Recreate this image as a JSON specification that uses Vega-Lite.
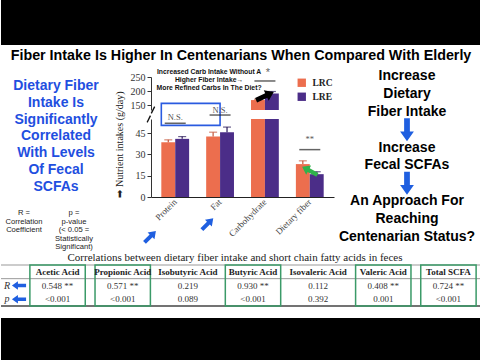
{
  "$schema": "https://vega.github.io/schema/vega-lite/v6.json",
  "background": "white",
  "padding": 0,
  "spacing": 0,
  "bounds": "full",
  "resolve": {"legend": {"color": "independent"}},
  "config": {
    "view": {"stroke": null},
    "font": "Liberation Sans",
    "axis": {"grid": false, "labelFont": "Liberation Serif", "labelFontSize": 10, "labelColor": "#333", "domainColor": "#333", "tickColor": "#333", "titleFont": "Liberation Serif", "titleFontWeight": "normal", "titleColor": "#222"}
  },
  "datasets": {
    "nutrients": [
      {"nutrient": "Protein", "group": "LRC", "value": 38.6, "hi": 40.3},
      {"nutrient": "Protein", "group": "LRE", "value": 41.0, "hi": 42.6},
      {"nutrient": "Fat", "group": "LRC", "value": 42.6, "hi": 45.7},
      {"nutrient": "Fat", "group": "LRE", "value": 45.7, "hi": 49.3},
      {"nutrient": "Carbohydrate", "group": "LRC", "value": 169, "hi": 172},
      {"nutrient": "Carbohydrate", "group": "LRE", "value": 192, "hi": 199},
      {"nutrient": "Dietary fiber", "group": "LRC", "value": 23.2, "hi": 25.5},
      {"nutrient": "Dietary fiber", "group": "LRE", "value": 16.1, "hi": 17.8}
    ],
    "notes": [
      {"panel": "upper", "kind": "caption", "nutrient": "Fat", "level": 267, "label": "Increased Carb Intake Without A\nHigher Fiber Intake→\nMore Refined Carbs In The Diet?"},
      {"panel": "upper", "kind": "star", "nutrient": "Carbohydrate", "level": 264, "label": "*"},
      {"panel": "upper", "kind": "line", "nutrient": "Carbohydrate", "level": 236},
      {"panel": "upper", "kind": "blackarrow", "nutrient": "Carbohydrate", "level": 183},
      {"panel": "upper", "kind": "break", "nutrient": "Protein", "level": 134},
      {"panel": "lower", "kind": "break", "nutrient": "Protein", "level": 55},
      {"panel": "lower", "kind": "star", "nutrient": "Protein", "level": 56.3, "label": "N.S."},
      {"panel": "lower", "kind": "line", "nutrient": "Protein", "level": 52},
      {"panel": "lower", "kind": "star", "nutrient": "Fat", "level": 61.2, "label": "N.S."},
      {"panel": "lower", "kind": "line", "nutrient": "Fat", "level": 57.8},
      {"panel": "lower", "kind": "star", "nutrient": "Dietary fiber", "level": 41, "label": "**"},
      {"panel": "lower", "kind": "line", "nutrient": "Dietary fiber", "level": 33.4},
      {"panel": "lower", "kind": "greenarrow", "nutrient": "Dietary fiber", "level": 18.5},
      {"panel": "lower", "kind": "bluearrow", "nutrient": "Protein", "level": -28},
      {"panel": "lower", "kind": "bluearrow", "nutrient": "Fat", "level": -19}
    ],
    "acids": [
      {"acid": "Acetic Acid", "R": "0.548 **", "p": "<0.001", "sig": true},
      {"acid": "Propionic Acid", "R": "0.571 **", "p": "<0.001", "sig": true},
      {"acid": "Isobutyric Acid", "R": "0.219", "p": "0.089", "sig": false},
      {"acid": "Butyric Acid", "R": "0.930 **", "p": "<0.001", "sig": true},
      {"acid": "Isovaleric Acid", "R": "0.112", "p": "0.392", "sig": false},
      {"acid": "Valeric Acid", "R": "0.408 **", "p": "0.001", "sig": true},
      {"acid": "Total SCFA", "R": "0.724 **", "p": "<0.001", "sig": true}
    ],
    "rows": [{"row": "head"}, {"row": "R"}, {"row": "p"}],
    "flow": [
      {"slot": 1, "kind": "text", "t": "Increase"},
      {"slot": 2, "kind": "text", "t": "Dietary"},
      {"slot": 3, "kind": "text", "t": "Fiber Intake"},
      {"slot": 4, "kind": "arrow"},
      {"slot": 5, "kind": "text", "t": "Increase"},
      {"slot": 6, "kind": "text", "t": "Fecal SCFAs"},
      {"slot": 7, "kind": "arrow"},
      {"slot": 8, "kind": "text", "t": "An Approach For"},
      {"slot": 9, "kind": "text", "t": "Reaching"},
      {"slot": 10, "kind": "text", "t": "Centenarian Status?"}
    ],
    "legendnotes": [
      {"block": "R", "line": 0, "t": "R ="},
      {"block": "R", "line": 1, "t": "Correlation"},
      {"block": "R", "line": 2, "t": "Coefficient"},
      {"block": "p", "line": 0, "t": "p ="},
      {"block": "p", "line": 1, "t": "p-value"},
      {"block": "p", "line": 2, "t": "(< 0.05 ="},
      {"block": "p", "line": 3, "t": "Statistically"},
      {"block": "p", "line": 4, "t": "Significant)"}
    ]
  },
  "vconcat": [
    {"width": 480, "height": 45, "view": {"fill": "black"}, "data": {"values": [{}]}, "mark": {"type": "text", "text": ""}, "encoding": {}},
    {"width": 480, "height": 22, "data": {"values": [{"t": "Fiber Intake Is Higher In Centenarians When Compared With Elderly"}]},
     "mark": {"type": "text", "font": "Liberation Sans", "fontWeight": "bold", "fontSize": 14.3, "baseline": "alphabetic", "dy": 4, "color": "black"},
     "encoding": {"text": {"field": "t"}}},
    {"hconcat": [
      {"width": 110, "height": 36,
       "layer": [
         {"data": {"values": [{"t": "Dietary Fiber\nIntake Is\nSignificantly\nCorrelated\nWith Levels\nOf Fecal\nSCFAs"}]},
          "mark": {"type": "text", "font": "Liberation Sans", "fontSize": 14, "fontWeight": "bold", "color": "#1f4fe0", "lineBreak": "\n", "lineHeight": 16.8, "baseline": "middle", "align": "center"},
          "encoding": {"text": {"field": "t"}}},
         {"data": {"name": "legendnotes"},
          "mark": {"type": "text", "font": "Liberation Sans", "fontSize": 7.6, "color": "#222"},
          "encoding": {
            "x": {"field": "block", "type": "nominal", "scale": {"type": "point", "domain": ["R", "p"], "range": [23, 73], "padding": 0}, "axis": null},
            "y": {"field": "line", "type": "ordinal", "scale": {"type": "point", "range": [145, 179], "padding": 0}, "axis": null},
            "text": {"field": "t"}}}
       ]},
      {"width": 183, "height": 129,
       "resolve": {"scale": {"y": "independent"}, "axis": {"y": "independent"}},
       "encoding": {
         "x": {"field": "nutrient", "type": "nominal", "sort": null, "scale": {"domain": ["Protein", "Fat", "Carbohydrate", "Dietary fiber"], "paddingInner": 0.38, "paddingOuter": 0.23}}
       },
       "layer": [
         {"layer": [
           {"data": {"name": "nutrients"}, "transform": [{"filter": "datum.value > 134"}], "mark": {"type": "bar"},
            "encoding": {
              "xOffset": {"field": "group", "type": "nominal", "scale": {"domain": ["LRC", "LRE"]}},
              "y": {"field": "value", "type": "quantitative", "scale": {"domain": [134, 250], "range": [42, 9], "nice": false, "zero": false}, "axis": {"orient": "left", "values": [150, 200, 250], "title": null, "tickSize": 4, "labelPadding": 2}},
              "y2": {"datum": 134},
              "color": {"field": "group", "type": "nominal", "scale": {"domain": ["LRC", "LRE"], "range": ["#EC6E4E", "#4B2D88"]},
                "legend": {"title": null, "orient": "none", "legendX": 146, "legendY": 10, "padding": 0, "symbolType": "square", "symbolSize": 70, "symbolStrokeWidth": 0, "labelFont": "Liberation Serif", "labelFontWeight": "bold", "labelFontSize": 9.5, "labelColor": "#222", "rowPadding": 3, "labelOffset": 6}}}},
           {"data": {"name": "nutrients"}, "transform": [{"filter": "datum.value > 134"}], "mark": {"type": "rule", "strokeWidth": 1.2},
            "encoding": {
              "xOffset": {"field": "group", "type": "nominal"},
              "y": {"field": "value", "type": "quantitative"}, "y2": {"field": "hi"},
              "color": {"condition": {"test": "datum.group === 'LRC'", "value": "#c4553a"}, "value": "#2b1a5a"}}},
           {"data": {"name": "nutrients"}, "transform": [{"filter": "datum.value > 134"}], "mark": {"type": "tick", "size": 8, "thickness": 1.2},
            "encoding": {
              "xOffset": {"field": "group", "type": "nominal"},
              "y": {"field": "hi", "type": "quantitative"},
              "color": {"condition": {"test": "datum.group === 'LRC'", "value": "#c4553a"}, "value": "#2b1a5a"}}},
           {"data": {"name": "notes"}, "transform": [{"filter": "datum.panel === 'upper' && datum.kind === 'caption'"}],
            "mark": {"type": "text", "font": "Liberation Sans", "fontWeight": "bold", "fontSize": 6.8, "lineBreak": "\n", "lineHeight": 8, "baseline": "middle", "dx": -11, "color": "#111"},
            "encoding": {"y": {"field": "level", "type": "quantitative"}, "text": {"field": "label"}}},
           {"data": {"name": "notes"}, "transform": [{"filter": "datum.panel === 'upper' && datum.kind === 'star'"}],
            "mark": {"type": "text", "font": "Liberation Sans", "fontSize": 11, "baseline": "middle", "dx": 3, "color": "#666"},
            "encoding": {"y": {"field": "level", "type": "quantitative"}, "text": {"field": "label"}}},
           {"data": {"name": "notes"}, "transform": [{"filter": "datum.panel === 'upper' && datum.kind === 'line'"}],
            "mark": {"type": "tick", "size": 21, "thickness": 1.5, "color": "#222"},
            "encoding": {"y": {"field": "level", "type": "quantitative"}}},
           {"data": {"name": "notes"}, "transform": [{"filter": "datum.panel === 'upper' && datum.kind === 'blackarrow'"}],
            "mark": {"type": "point", "shape": "M-0.25,1L0.25,1L0.25,-0.15L0.6,-0.15L0,-1L-0.6,-0.15L-0.25,-0.15Z", "filled": true, "color": "black", "opacity": 1, "size": 380, "angle": 65},
            "encoding": {"y": {"field": "level", "type": "quantitative"}}},
           {"data": {"name": "notes"}, "transform": [{"filter": "datum.panel === 'upper' && datum.kind === 'break'"}],
            "mark": {"type": "point", "shape": "M-0.4,0.8L0.4,-0.8", "filled": false, "color": "#111", "strokeWidth": 1.3, "opacity": 1, "size": 70},
            "encoding": {"x": {"field": "nutrient", "type": "nominal", "sort": null, "bandPosition": -0.3}, "y": {"field": "level", "type": "quantitative"}}}
         ]},
         {"layer": [
           {"data": {"name": "nutrients"}, "mark": {"type": "bar"},
            "encoding": {
              "x": {"field": "nutrient", "type": "nominal", "sort": null, "axis": {"title": null, "labelAngle": -45, "labelFontSize": 9, "ticks": false, "labelPadding": 3, "domainColor": "#222", "labelColor": "#444"}},
              "xOffset": {"field": "group", "type": "nominal"},
              "y": {"field": "value", "type": "quantitative", "scale": {"domain": [0, 55], "range": [129, 51], "nice": false, "clamp": true},
                "axis": {"orient": "left", "values": [0, 15, 30, 45], "title": "➡ Nutrient intakes (g/day)", "titleAnchor": "start", "titleFontSize": 10, "titlePadding": 11, "tickSize": 4, "labelPadding": 2}},
              "color": {"field": "group", "type": "nominal"}}},
           {"data": {"name": "nutrients"}, "transform": [{"filter": "datum.hi < 55"}], "mark": {"type": "rule", "strokeWidth": 1.2},
            "encoding": {
              "xOffset": {"field": "group", "type": "nominal"},
              "y": {"field": "value", "type": "quantitative"}, "y2": {"field": "hi"},
              "color": {"condition": {"test": "datum.group === 'LRC'", "value": "#c4553a"}, "value": "#2b1a5a"}}},
           {"data": {"name": "nutrients"}, "transform": [{"filter": "datum.hi < 55"}], "mark": {"type": "tick", "size": 8, "thickness": 1.2},
            "encoding": {
              "xOffset": {"field": "group", "type": "nominal"},
              "y": {"field": "hi", "type": "quantitative"},
              "color": {"condition": {"test": "datum.group === 'LRC'", "value": "#c4553a"}, "value": "#2b1a5a"}}}
         ]},
         {"encoding": {"y": {"field": "level", "type": "quantitative", "scale": {"domain": [0, 55], "range": [129, 51], "nice": false}, "axis": null}},
          "layer": [
           {"data": {"values": [{"from": "Protein", "to": "Fat", "lo": 50.5, "level": 66}]},
            "mark": {"type": "rect", "fill": "transparent", "stroke": "#2a5be0", "strokeWidth": 1.6},
            "encoding": {"x": {"field": "from", "type": "nominal", "sort": null, "bandPosition": 0}, "x2": {"field": "to"}, "y2": {"field": "lo"}}},
           {"data": {"name": "notes"}, "transform": [{"filter": "datum.panel === 'lower' && datum.kind === 'star'"}],
            "mark": {"type": "text", "font": "Liberation Serif", "fontSize": 8.5, "baseline": "middle", "color": "#555"},
            "encoding": {"text": {"field": "label"}}},
           {"data": {"name": "notes"}, "transform": [{"filter": "datum.panel === 'lower' && datum.kind === 'line'"}],
            "mark": {"type": "tick", "size": 21, "thickness": 1.5, "color": "#222"}},
           {"data": {"name": "notes"}, "transform": [{"filter": "datum.panel === 'lower' && datum.kind === 'break'"}],
            "mark": {"type": "point", "shape": "M-0.4,0.8L0.4,-0.8", "filled": false, "color": "#111", "strokeWidth": 1.3, "opacity": 1, "size": 70},
            "encoding": {"x": {"field": "nutrient", "type": "nominal", "sort": null, "bandPosition": -0.45}}},
           {"data": {"name": "notes"}, "transform": [{"filter": "datum.panel === 'lower' && datum.kind === 'greenarrow'"}],
            "mark": {"type": "point", "shape": "M-0.25,1L0.25,1L0.25,-0.15L0.6,-0.15L0,-1L-0.6,-0.15L-0.25,-0.15Z", "filled": true, "color": "#2fb24c", "opacity": 1, "size": 300, "angle": -62}},
           {"data": {"name": "notes"}, "transform": [{"filter": "datum.panel === 'lower' && datum.kind === 'bluearrow' && datum.nutrient === 'Protein'"}],
            "mark": {"type": "point", "shape": "M-0.25,1L0.25,1L0.25,-0.15L0.6,-0.15L0,-1L-0.6,-0.15L-0.25,-0.15Z", "filled": true, "color": "#1f5fe0", "opacity": 1, "size": 260, "angle": 45},
            "encoding": {"x": {"field": "nutrient", "type": "nominal", "sort": null, "bandPosition": -0.4}}},
           {"data": {"name": "notes"}, "transform": [{"filter": "datum.panel === 'lower' && datum.kind === 'bluearrow' && datum.nutrient === 'Fat'"}],
            "mark": {"type": "point", "shape": "M-0.25,1L0.25,1L0.25,-0.15L0.6,-0.15L0,-1L-0.6,-0.15L-0.25,-0.15Z", "filled": true, "color": "#1f5fe0", "opacity": 1, "size": 260, "angle": 45},
            "encoding": {"x": {"field": "nutrient", "type": "nominal", "sort": null, "bandPosition": 0.05}}}
         ]}
       ]},
      {"width": 66, "height": 177, "data": {"name": "flow"},
       "encoding": {"y": {"field": "slot", "type": "ordinal", "scale": {"type": "point", "padding": 0.447}, "axis": null}},
       "layer": [
         {"transform": [{"filter": "datum.kind === 'text'"}],
          "mark": {"type": "text", "font": "Liberation Sans", "fontSize": 14, "fontWeight": "bold", "color": "black", "baseline": "middle", "align": "center"},
          "encoding": {"text": {"field": "t"}}},
         {"transform": [{"filter": "datum.kind === 'arrow'"}],
          "mark": {"type": "point", "shape": "M-0.25,1L0.25,1L0.25,-0.15L0.6,-0.15L0,-1L-0.6,-0.15L-0.25,-0.15Z", "filled": true, "color": "#1f5fe0", "opacity": 1, "size": 529, "angle": 180}}
       ]}
    ], "spacing": 40, "bounds": "flush", "resolve": {"legend": {"color": "independent"}}},
    {"width": 468, "height": 13, "data": {"values": [{"t": "Correlations between dietary fiber intake and short chain fatty acids in feces"}]},
     "mark": {"type": "text", "font": "Liberation Serif", "fontSize": 11, "color": "#222"},
     "encoding": {"text": {"field": "t"}}},
    {"hconcat": [
      {"width": 24, "height": 41,
       "encoding": {"y": {"field": "row", "type": "nominal", "scale": {"type": "band", "domain": ["head", "R", "p"], "paddingInner": 0, "paddingOuter": 0}, "axis": null}},
       "layer": [
         {"data": {"name": "rows"}, "transform": [{"filter": "datum.row !== 'p'"}], "mark": {"type": "rule", "color": "#999", "strokeWidth": 1},
          "encoding": {"y": {"field": "row", "type": "nominal", "bandPosition": 0}}},
         {"data": {"name": "rows"}, "transform": [{"filter": "datum.row === 'p'"}], "mark": {"type": "rule", "color": "#444", "strokeWidth": 1.5},
          "encoding": {"y": {"field": "row", "type": "nominal", "bandPosition": 1}}},
         {"data": {"name": "rows"}, "transform": [{"filter": "datum.row !== 'head'"}],
          "mark": {"type": "text", "font": "Liberation Serif", "fontStyle": "italic", "fontSize": 10, "color": "#333"},
          "encoding": {"x": {"datum": "letter", "type": "nominal", "scale": {"type": "point", "domain": ["letter", "arrow"], "padding": 0.5}, "axis": null}, "text": {"field": "row"}}},
         {"data": {"name": "rows"}, "transform": [{"filter": "datum.row !== 'head'"}],
          "mark": {"type": "point", "shape": "M-0.25,1L0.25,1L0.25,-0.15L0.6,-0.15L0,-1L-0.6,-0.15L-0.25,-0.15Z", "filled": true, "color": "#1f5fe0", "opacity": 1, "size": 200, "angle": 270},
          "encoding": {"x": {"datum": "arrow", "type": "nominal"}}}
       ]},
      {"width": 456, "height": 41,
       "layer": [
         {"data": {"name": "rows"}, "transform": [{"filter": "datum.row !== 'p'"}], "mark": {"type": "rule", "color": "#999", "strokeWidth": 1},
          "encoding": {"y": {"field": "row", "type": "nominal", "bandPosition": 0, "scale": {"type": "band", "domain": ["head", "R", "p"], "paddingInner": 0, "paddingOuter": 0}, "axis": null}}},
         {"data": {"name": "rows"}, "transform": [{"filter": "datum.row === 'p'"}], "mark": {"type": "rule", "color": "#444", "strokeWidth": 1.5},
          "encoding": {"y": {"field": "row", "type": "nominal", "bandPosition": 1}}},
         {"data": {"name": "acids"}, "transform": [{"filter": "datum.sig"}],
          "mark": {"type": "rect", "fill": "transparent", "stroke": "#3b9a68", "strokeWidth": 1.5},
          "encoding": {"x": {"field": "acid", "type": "nominal", "sort": null, "scale": {"paddingInner": 0.15, "paddingOuter": 0.075, "domain": ["Acetic Acid", "Propionic Acid", "Isobutyric Acid", "Butyric Acid", "Isovaleric Acid", "Valeric Acid", "Total SCFA"]}, "axis": null}}},
         {"data": {"name": "acids"}, "mark": {"type": "text", "font": "Liberation Serif", "fontWeight": "bold", "fontSize": 9, "color": "#222"},
          "encoding": {"x": {"field": "acid", "type": "nominal", "sort": null}, "y": {"datum": "head", "type": "nominal"}, "text": {"field": "acid"}}},
         {"data": {"name": "acids"}, "mark": {"type": "text", "font": "Liberation Serif", "fontSize": 9, "color": "#333"},
          "encoding": {"x": {"field": "acid", "type": "nominal", "sort": null}, "y": {"datum": "R", "type": "nominal"}, "text": {"field": "R"}}},
         {"data": {"name": "acids"}, "mark": {"type": "text", "font": "Liberation Serif", "fontSize": 9, "color": "#333"},
          "encoding": {"x": {"field": "acid", "type": "nominal", "sort": null}, "y": {"datum": "p", "type": "nominal"}, "text": {"field": "p"}}}
       ]}
    ], "spacing": 0, "bounds": "flush"},
    {"width": 480, "height": 8, "data": {"values": [{}]}, "mark": {"type": "text", "text": ""}, "encoding": {}},
    {"width": 480, "height": 50, "view": {"fill": "black"}, "data": {"values": [{}]}, "mark": {"type": "text", "text": ""}, "encoding": {}}
  ]
}
